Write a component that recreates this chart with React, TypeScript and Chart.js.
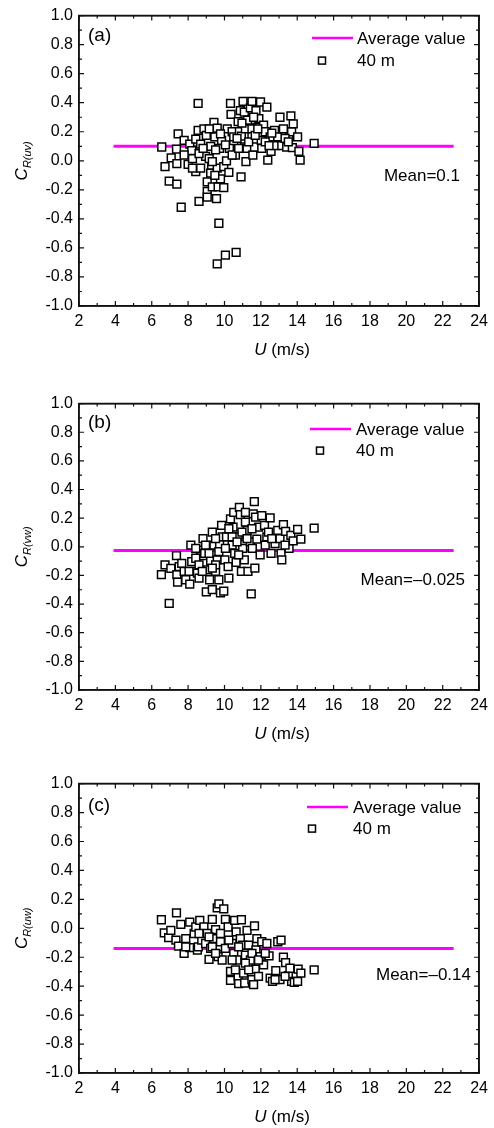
import React, { useEffect, useRef } from "react";
import { Chart, registerables } from "chart.js";

Chart.register(...registerables);

const FONT = '"Liberation Sans", Arial, Helvetica, sans-serif';

// Axes
const X_MIN = 2;
const X_MAX = 24;
const X_STEP = 2;
const Y_MIN = -1;
const Y_MAX = 1;
const Y_STEP = 0.2;

// Average line extent (x values)
const AVG_X = [3.9, 22.6];

const LEGEND_LINE = "Average value";
const LEGEND_POINTS = "40 m";
const X_TITLE_ITALIC = "U";
const X_TITLE_REST = " (m/s)";

// Panel (a): C_R(uv)
const uvX = [6.55,6.73,6.96,7.07,7.38,7.38,7.45,7.36,7.62,7.78, 8.0,8.09,8.2,8.24,8.42,8.42,8.55,8.55,8.6,8.69, 8.69,8.87,8.96,9.0,9.05,9.05,9.05,9.24,9.24,9.29, 9.33,9.42,9.47,9.56,9.6,9.6,9.65,9.69,9.6,9.73, 9.78,9.84,9.96,9.96,10.05,10.11,10.24,10.15,10.33,10.36, 10.42,10.51,10.51,10.6,10.64,10.75,10.82,10.87,10.91,10.93, 11.02,11.09,11.09,11.18,11.24,11.27,11.42,11.51,11.51,11.56, 11.65,11.73,11.78,11.89,11.98,12.02,12.15,12.24,12.33,12.38, 12.51,12.56,12.75,12.78,12.93,13.05,13.15,13.24,13.42,13.55, 13.65,13.69,13.78,13.73,14.02,14.09,14.16,14.93, 8.6,8.82,9.16,9.51,10.27,10.42,10.69,11.15,11.33,11.51,11.69,12.05,12.24,12.45,12.6,13.33,13.51,8.24,7.78,9.33,9.47,9.16,9.78,10.05,10.78,10.96,11.6,11.83];
const uvY = [0.095,-0.04,-0.14,0.02,-0.02,-0.16,0.185,0.08,-0.32,0.14, -0.025,0.115,0.07,0.015,-0.075,0.15,0.395,0.21,-0.28,-0.05, 0.115,0.22,0.03,0.175,-0.145,-0.21,-0.25,0.1,-0.085,-0.03, -0.18,0.265,0.165,-0.26,0.225,-0.05,-0.18,-0.43,-0.71,0.085, -0.125,0.14,-0.04,-0.185,-0.65,0.0,-0.08,0.22,0.395,0.32, 0.2,0.12,0.165,0.04,-0.63,0.27,0.2,0.345,-0.11,0.17, 0.41,0.335,0.095,-0.005,0.085,0.28,0.365,0.41,0.175,0.04, 0.095,0.345,0.23,0.29,0.405,0.14,0.245,0.2,0.37,0.005, 0.165,0.065,0.21,0.105,0.165,0.3,0.105,0.22,0.095,0.165, 0.31,0.2,0.255,0.09,0.165,0.065,0.005,0.12, 0.05,0.085,0.015,0.075,0.085,0.04,0.155,0.22,0.13,0.22,0.175,0.085,0.13,0.105,0.19,0.155,0.13,-0.05,0.04,-0.005,-0.1,0.22,0.185,0.11,0.085,0.26,0.3,0.22];
const uvMean = 0.1;
const uvMeanText = "Mean=0.1";

// Panel (b): C_R(vw)
const vwX = [6.53,6.73,6.96,7.05,7.36,7.38,7.42,7.51,7.65,7.78, 7.87,8.09,8.15,8.2,8.33,8.42,8.51,8.6,8.69,8.82, 8.87,8.91,9.0,9.05,9.18,9.24,9.33,9.33,9.42,9.51, 9.6,9.69,9.73,9.78,9.84,9.87,9.96,10.02,10.11,10.2, 10.24,10.33,10.42,10.47,10.51,10.56,10.64,10.75,10.82,10.87, 10.93,11.0,11.09,11.15,11.24,11.29,11.42,11.47,11.53,11.58, 11.64,11.67,11.71,11.78,11.87,11.96,12.05,12.2,12.33,12.42, 12.51,12.56,12.78,12.93,13.05,13.11,13.15,13.24,13.36,13.55, 13.65,13.78,14.02,14.2,14.93, 8.42,8.6,8.96,9.15,9.51,9.69,10.05,10.24,10.42,10.69,10.96,11.24,11.51,10.78,9.51,8.05,8.78,9.33,12.24,12.6,13.33,11.15];
const vwY = [-0.195,-0.126,-0.395,-0.15,-0.062,-0.195,-0.246,-0.138,-0.115,-0.172, -0.23,-0.26,0.011,-0.103,-0.172,-0.08,-0.184,-0.218,-0.023,0.057, -0.115,-0.046,-0.315,-0.161,-0.23,-0.099,0.103,-0.299,0.011,-0.172, -0.092,-0.23,0.016,-0.322,0.149,0.069,-0.31,-0.092,0.069,-0.138, -0.218,0.195,0.011,0.138,0.241,-0.046,-0.108,0.069,0.276,0.225, -0.172,-0.011,-0.092,0.172,0.115,-0.172,0.034,-0.329,-0.011,0.23, 0.315,-0.149,0.207,0.053,0.138,-0.057,0.218,0.149,0.069,0.103, 0.202,-0.046,0.023,0.115,0.057,-0.046,-0.092,0.154,0.108,-0.011, 0.08,0.041,0.122,0.053,0.131, -0.011,-0.126,0.011,-0.046,0.057,-0.034,-0.011,0.126,0.069,0.034,0.103,0.057,0.126,-0.057,-0.126,-0.172,-0.172,-0.149,0.011,0.057,0.011,0.241];
const vwMean = -0.025;
const vwMeanText = "Mean=\u20130.025";

// Panel (c): C_R(uw)
const uwX = [6.53,6.69,6.93,7.05,7.36,7.33,7.47,7.6,7.78,7.87, 8.09,8.09,8.33,8.42,8.51,8.56,8.64,8.75,8.87,8.96, 9.05,9.15,9.24,9.33,9.42,9.51,9.6,9.69,9.65,9.69, 9.78,9.87,9.96,10.05,10.05,10.2,10.33,10.33,10.42,10.51, 10.56,10.64,10.69,10.75,10.78,10.87,10.93,11.0,11.05,11.11, 11.15,11.24,11.33,11.42,11.51,11.6,11.65,11.69,11.73,11.78, 11.87,11.96,12.05,12.15,12.33,12.45,12.51,12.64,12.82,12.93, 13.11,13.05,13.24,13.36,13.51,13.6,13.69,13.84,14.02,14.05, 14.2,14.93, 8.6,9.15,9.33,9.78,10.24,10.42,10.78,11.15,11.51,11.87,12.24,7.87,9.51,10.6,11.33,12.78,13.33];
const uwY = [0.059,-0.032,-0.064,-0.014,0.107,-0.082,-0.123,0.027,-0.173,-0.071, 0.043,-0.134,-0.036,0.009,-0.15,-0.128,0.055,-0.082,0.009,-0.105, -0.036,-0.214,-0.139,0.062,-0.071,-0.009,0.141,0.169,-0.196,-0.128, -0.093,-0.219,0.134,0.062,-0.139,0.009,-0.298,-0.36,-0.105,-0.173, 0.055,-0.025,-0.219,-0.333,-0.383,-0.071,0.059,-0.116,-0.31,-0.378, -0.185,-0.014,-0.116,-0.219,-0.355,-0.39,0.016,-0.282,-0.15,-0.071, -0.333,-0.196,-0.093,-0.253,-0.105,-0.191,-0.344,-0.367,-0.292,-0.093, -0.082,-0.355,-0.2,-0.237,-0.328,-0.276,-0.367,-0.374,-0.367,-0.282, -0.31,-0.287, -0.036,-0.059,-0.128,-0.036,-0.082,-0.219,-0.128,-0.241,-0.173,-0.219,-0.173,-0.128,-0.173,-0.287,-0.287,-0.355,-0.333];
const uwMean = -0.14;
const uwMeanText = "Mean=\u20130.14";

type PanelDef = {
  label: string;
  sub: string;
  xs: number[];
  ys: number[];
  mean: number;
  meanText: string;
  top: number;
  height: number;
  xAxisH: number;
  lineDy: number;
  squareDy: number;
  lineX0: number;
  lineX1: number;
  squareX: number;
  textX: number;
  labelDy: number;
  meanRight: number;
  meanDy: number;
};

const PANELS: PanelDef[] = [
  { label: "(a)", sub: "R(uv)", xs: uvX, ys: uvY, mean: uvMean, meanText: uvMeanText,
    top: 0, height: 370, xAxisH: 64, lineDy: 22.5, squareDy: 45, lineX0: 312, lineX1: 353,
    squareX: 322, textX: 357, labelDy: 20, meanRight: 460, meanDy: 161 },
  { label: "(b)", sub: "R(vw)", xs: vwX, ys: vwY, mean: vwMean, meanText: vwMeanText,
    top: 388, height: 366, xAxisH: 64, lineDy: 25.5, squareDy: 47, lineX0: 310, lineX1: 351,
    squareX: 320, textX: 356, labelDy: 19, meanRight: 465, meanDy: 177 },
  { label: "(c)", sub: "R(uw)", xs: uwX, ys: uwY, mean: uwMean, meanText: uwMeanText,
    top: 768, height: 360, xAxisH: 55, lineDy: 23.5, squareDy: 45, lineX0: 307, lineX1: 348,
    squareX: 312, textX: 353, labelDy: 22, meanRight: 471, meanDy: 192 },
];

const MAGENTA = "#ff00ff";
const AXIS_COLOR = "#111111";

function drawFrameAndTicks(chart: any) {
  const ctx = chart.ctx as CanvasRenderingContext2D;
  const ca = chart.chartArea;
  const L = ca.left;
  const R = ca.right;
  const T = ca.top;
  const B = ca.bottom;
  const xScale = chart.scales.x;
  const yScale = chart.scales.y;
  ctx.save();
  ctx.globalAlpha = 1;
  ctx.setLineDash([]);
  ctx.strokeStyle = AXIS_COLOR;
  ctx.lineWidth = 1.5;
  ctx.beginPath();
  ctx.rect(L, T, R - L, B - T);
  ctx.stroke();

  ctx.lineWidth = 1.2;
  ctx.beginPath();
  const xMinor = X_STEP / 2;
  const nX = Math.round((X_MAX - X_MIN) / xMinor);
  for (let i = 0; i <= nX; i++) {
    const v = X_MIN + i * xMinor;
    const px = xScale.getPixelForValue(v);
    const len = i % 2 === 0 ? 5 : 3;
    ctx.moveTo(px, B);
    ctx.lineTo(px, B - len);
    ctx.moveTo(px, T);
    ctx.lineTo(px, T + len);
  }
  const yMinor = Y_STEP / 2;
  const nY = Math.round((Y_MAX - Y_MIN) / yMinor);
  for (let i = 0; i <= nY; i++) {
    const v = Y_MIN + i * yMinor;
    const py = yScale.getPixelForValue(v);
    const len = i % 2 === 0 ? 5 : 3;
    ctx.moveTo(L, py);
    ctx.lineTo(L + len, py);
    ctx.moveTo(R, py);
    ctx.lineTo(R - len, py);
  }
  ctx.stroke();
  ctx.restore();
}

function Panel({ p }: { p: PanelDef }) {
  const ref = useRef<HTMLCanvasElement>(null);

  useEffect(() => {
    const canvas = ref.current;
    if (!canvas) return;

    const decor = {
      id: "panelDecor",
      afterDraw(chart: any) {
        const ctx = chart.ctx as CanvasRenderingContext2D;
        const ca = chart.chartArea;
        const L = ca.left;
        const R = ca.right;
        const T = ca.top;
        const B = ca.bottom;
        ctx.save();

        ctx.fillStyle = "#000";
        ctx.textBaseline = "middle";

        // panel label
        ctx.font = `19px ${FONT}`;
        ctx.textAlign = "left";
        ctx.fillText(p.label, 88, T + p.labelDy);

        // legend
        ctx.strokeStyle = MAGENTA;
        ctx.lineWidth = 2.5;
        ctx.beginPath();
        ctx.moveTo(p.lineX0, T + p.lineDy);
        ctx.lineTo(p.lineX1, T + p.lineDy);
        ctx.stroke();
        ctx.font = `17px ${FONT}`;
        ctx.fillText(LEGEND_LINE, p.textX, T + p.lineDy + 1);
        ctx.fillStyle = "#fff";
        ctx.strokeStyle = "#000";
        ctx.lineWidth = 1.5;
        ctx.fillRect(p.squareX - 3.5, T + p.squareDy - 3.5, 7, 7);
        ctx.strokeRect(p.squareX - 3.5, T + p.squareDy - 3.5, 7, 7);
        ctx.fillStyle = "#000";
        ctx.fillText(LEGEND_POINTS, p.textX, T + p.squareDy + 1);

        // mean annotation
        ctx.textAlign = "right";
        ctx.fillText(p.meanText, p.meanRight, T + p.meanDy);

        // x title
        ctx.textAlign = "left";
        ctx.font = `italic 17px ${FONT}`;
        const wU = ctx.measureText(X_TITLE_ITALIC).width;
        ctx.font = `17px ${FONT}`;
        const wR = ctx.measureText(X_TITLE_REST).width;
        const cx = (L + R) / 2 + 3;
        const x0 = cx - (wU + wR) / 2;
        ctx.font = `italic 17px ${FONT}`;
        ctx.fillText(X_TITLE_ITALIC, x0, B + 44);
        ctx.font = `17px ${FONT}`;
        ctx.fillText(X_TITLE_REST, x0 + wU, B + 44);

        // y title (rotated)
        ctx.save();
        ctx.translate(27, (T + B) / 2);
        ctx.rotate(-Math.PI / 2);
        ctx.textBaseline = "alphabetic";
        ctx.textAlign = "left";
        ctx.font = `italic 17px ${FONT}`;
        const wC = ctx.measureText("C").width;
        ctx.font = `italic 11px ${FONT}`;
        const wS = ctx.measureText(p.sub).width;
        const u0 = -(wC + wS) / 2;
        ctx.font = `italic 17px ${FONT}`;
        ctx.fillText("C", u0, 0);
        ctx.font = `italic 11px ${FONT}`;
        ctx.fillText(p.sub, u0 + wC, 4);
        ctx.restore();

        ctx.restore();

        // frame and inward ticks, drawn last
        drawFrameAndTicks(chart);
      },
    };

    const borderOpt = { display: true, color: AXIS_COLOR, width: 1.5 };

    const chart = new Chart(canvas, {
      type: "scatter",
      data: {
        datasets: [
          {
            label: LEGEND_POINTS,
            data: p.xs.map((x, i) => ({ x, y: p.ys[i] })),
            pointStyle: "rect",
            pointRadius: 5.5,
            pointBorderWidth: 1.5,
            borderWidth: 1.5,
            borderColor: "#000",
            backgroundColor: "#fff",
            order: 0,
          } as any,
          {
            label: LEGEND_LINE,
            data: AVG_X.map((x) => ({ x, y: p.mean })),
            showLine: true,
            borderColor: MAGENTA,
            borderWidth: 3,
            pointRadius: 0,
            order: 1,
          } as any,
        ],
      },
      plugins: [decor],
      options: {
        animation: false,
        responsive: false,
        maintainAspectRatio: false,
        events: [],
        layout: { padding: { top: 12, right: 12, left: 0, bottom: 0 } },
        plugins: { legend: { display: false }, tooltip: { enabled: false } },
        scales: {
          x: {
            type: "linear",
            position: "bottom",
            min: X_MIN,
            max: X_MAX,
            grid: { display: false, drawTicks: false },
            border: borderOpt,
            ticks: {
              stepSize: X_STEP,
              autoSkip: false,
              maxRotation: 0,
              padding: 6,
              color: "#000",
              font: { family: FONT, size: 16 },
              callback: (v: any) => String(Math.round(Number(v))),
            },
            afterFit: (s: any) => {
              s.height = p.xAxisH;
            },
          },
          x2: {
            type: "linear",
            position: "top",
            min: X_MIN,
            max: X_MAX,
            grid: { display: false, drawTicks: false },
            border: borderOpt,
            ticks: { display: false },
            afterFit: (s: any) => {
              s.height = 0;
            },
          },
          y: {
            type: "linear",
            position: "left",
            min: Y_MIN,
            max: Y_MAX,
            grid: { display: false, drawTicks: false },
            border: borderOpt,
            ticks: {
              stepSize: Y_STEP,
              autoSkip: false,
              padding: 6,
              color: "#000",
              font: { family: FONT, size: 16 },
              callback: (v: any) => {
                const n = Math.abs(Number(v)) < 1e-9 ? 0 : Number(v);
                return n.toFixed(1);
              },
            },
            afterFit: (s: any) => {
              s.width = 79;
            },
          },
          y2: {
            type: "linear",
            position: "right",
            min: Y_MIN,
            max: Y_MAX,
            grid: { display: false, drawTicks: false },
            border: borderOpt,
            ticks: { display: false },
            afterFit: (s: any) => {
              s.width = 0;
            },
          },
        },
      } as any,
    });

    return () => chart.destroy();
  }, [p]);

  return (
    <canvas
      ref={ref}
      width={494}
      height={p.height}
      style={{ position: "absolute", left: 0, top: p.top, width: 494, height: p.height }}
    />
  );
}

export default function App() {
  return (
    <div
      style={{
        position: "absolute",
        left: 0,
        top: 0,
        width: 494,
        height: 1128,
        background: "#fff",
        overflow: "hidden",
      }}
    >
      {PANELS.map((p) => (
        <Panel key={p.label} p={p} />
      ))}
    </div>
  );
}
